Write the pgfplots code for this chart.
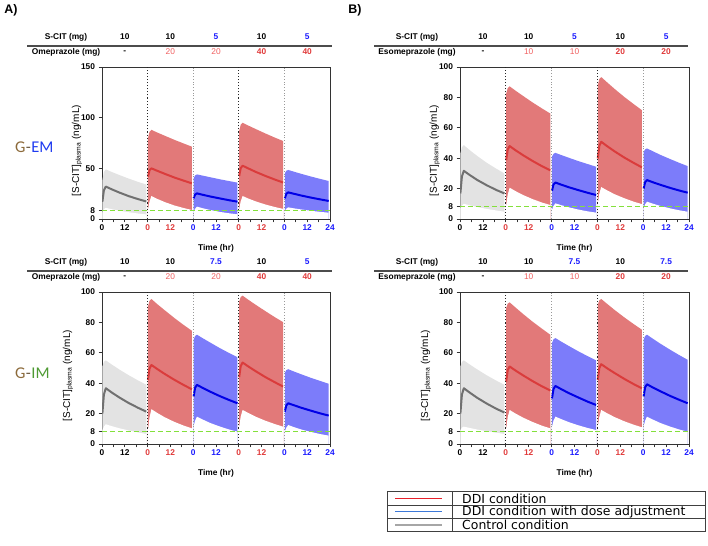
\documentclass[border=0pt]{standalone}
\usepackage{pgfplots}
\pgfplotsset{compat=1.18}
\usepackage{pgfplotstable}
\usepackage{fontspec}
\setmainfont{Liberation Sans}
\newfontfamily\gfont{Carlito}
\newfontfamily\legfont{DejaVu Sans}

\definecolor{bandgray}{HTML}{E3E3E3}
\definecolor{meangray}{HTML}{707070}
\definecolor{bandred}{HTML}{E27979}
\definecolor{meanred}{HTML}{DA3C3C}
\definecolor{bandblue}{HTML}{7C7CFA}
\definecolor{meanblue}{HTML}{0000E6}
\definecolor{limeg}{HTML}{84E03C}
\definecolor{tred}{HTML}{E03A3A}
\definecolor{lred}{HTML}{F06060}
\definecolor{tblue}{HTML}{1A1AFF}
\definecolor{gbrown}{HTML}{8C6A3A}
\definecolor{gdash}{HTML}{6B5840}
\definecolor{emblue}{HTML}{1F3BF0}
\definecolor{imgreen}{HTML}{4E9A33}
\definecolor{legred}{HTML}{E8202A}
\definecolor{legblue}{HTML}{3C78D8}
\definecolor{leggray}{HTML}{A6A6A6}

\newcommand{\fs}{\fontsize{8.4}{10}\selectfont}

% columns: t, gray (m,l,u), red1, blue1, red2, blue2
\pgfplotstableread{
t    gm   gl   gu   r1m  r1l  r1u  b1m  b1l  b1u  r2m  r2l  r2u  b2m  b2l  b2u
0.2  17   6    38   41.8 9    80   20.4 7    40   42.4 9.5  87   20.4 8    45
1    28.3 9.8  46.3 48   17.2 86   24.1 10.1 43   50.1 17.4 93   24.8 10.1 47.6
2    32   11   49   50   22.7 88   25.3 12.2 44   52.6 22.7 95   26.3 11.5 48.4
5    29.4 9.7  46.5 47.6 19.9 85.4 23.9 10.6 42.8 49.9 20.2 92.2 24.9 10.5 46.7
9    26.2 8.2  43.5 44.6 16.7 82.2 22.2 8.9  41.2 46.4 17.3 88.7 23.1 9.4  44.5
14   22.6 6.7  39.9 41.0 13.4 78.2 20.3 7.0  39.2 42.5 14.3 84.4 21.1 8.1  41.9
19   19.6 5.4  36.6 37.8 10.8 74.5 18.5 5.6  37.4 38.9 11.8 80.3 19.3 7.0  39.5
23.3 17.3 4.5  34   35.2 8.9  71.4 17.1 4.6  35.9 36   10   77   17.8 6.2  37.5
}\tabAT

\pgfplotstableread{
t    gm   gl   gu   r1m  r1l  r1u  b1m  b1l  b1u  r2m  r2l  r2u  b2m  b2l  b2u
0.2  16.8 7    43   38.7 9    82.5 18.6 6    41   39.8 10   88   20   7    44
1    28.0 8.8  47.2 45.7 16.0 86.1 22.7 8.6  42.9 48.1 16.6 92.1 24.2 9.6  45.8
2    31.7 10   48.6 48   20.6 87.3 24   10.3 43.5 50.8 21   93.4 25.6 11.4 46.4
5    29.0 9.0  45.4 45.3 18.4 84.5 22.6 9.1  42.1 48.0 18.9 90.0 24.2 10.1 44.6
9    25.7 7.9  41.5 42.0 15.8 81.0 20.9 7.7  40.3 44.5 16.3 85.6 22.5 8.6  42.2
14   22.2 6.6  37.0 38.2 13.1 76.7 19.0 6.2  38.1 40.5 13.7 80.4 20.5 7.0  39.5
19   19.1 5.6  33.1 34.7 10.8 72.7 17.2 5.0  36.1 36.9 11.4 75.6 18.7 5.7  36.9
23.3 16.8 4.8  30   32   9.2  69.4 15.8 4.2  34.4 34   9.8  71.6 17.3 4.8  34.8
}\tabBT

\pgfplotstableread{
t    gm   gl   gu   r1m  r1l  r1u  b1m  b1l  b1u  r2m  r2l  r2u  b2m  b2l  b2u
0.2  20   9    51   42.2 9    90.5 31.2 11.4 68.6 44   11.4 93.8 21.3 8.1  46.6
1    32.5 11.4 54   49.6 17.3 94.2 37.0 15.4 71.1 51.2 18.0 96.7 25.4 10.7 48.6
2    36.7 13   55   52   22.9 95.4 38.9 18   71.9 53.6 22.4 97.6 26.8 12.5 49.2
5    34.0 11.8 52.4 49.4 20.5 92.1 36.9 16.1 69.6 51.0 20.4 94.9 25.5 11.1 47.7
9    30.7 10.4 49.1 46.1 17.6 88.0 34.4 13.8 66.7 47.8 17.9 91.5 23.8 9.5  45.8
14   27.0 8.9  45.3 42.3 14.6 83.0 31.5 11.5 63.1 44.0 15.3 87.4 21.9 7.9  43.5
19   23.8 7.6  41.8 38.8 12.1 78.3 28.9 9.5  59.8 40.6 13.1 83.4 20.1 6.5  41.4
23.3 21.3 6.6  39   36   10.3 74.5 26.8 8.1  57.1 37.8 11.4 80.2 18.7 5.5  39.6
}\tabAB

\pgfplotstableread{
t    gm   gl   gu   r1m  r1l  r1u  b1m  b1l  b1u  r2m  r2l  r2u  b2m  b2l  b2u
0.2  20   9    51   41   10.3 89.5 30   11.4 66.4 42.2 11   91.6 31.2 11.4 68.6
1    32.5 10.8 54   48.5 17.6 92.3 36.2 15.4 68.9 49.9 17.8 94.5 37.3 15.4 71.1
2    36.7 11.4 55   51   22.4 93.2 38.2 18   69.7 52.5 22.4 95.4 39.3 18   71.9
5    33.9 10.6 52.4 48.4 20.1 89.9 36.1 16.4 67.4 49.9 20.3 92.3 37.2 16.1 69.3
9    30.4 9.5  49.1 45.2 17.4 85.6 33.5 14.4 64.5 46.7 17.7 88.2 34.7 13.8 66.0
14   26.6 8.4  45.2 41.4 14.5 80.5 30.6 12.3 61.0 42.9 15.0 83.4 31.7 11.5 62.1
19   23.2 7.4  41.7 37.9 12.0 75.8 27.8 10.5 57.7 39.4 12.7 78.9 29.0 9.5  58.4
23.3 20.7 6.6  38.9 35.2 10.3 71.9 25.7 9.2  55   36.7 11   75.2 26.8 8.1  55.4
}\tabBB

% band = fill under upper curve, then white fill under lower curve
\newcommand{\seg}[5]{%
  \addplot[fill=#4, draw=none] table[x expr=\thisrow{t}+#2, y=#3u] {#1} \closedcycle;
  \addplot[fill=white, draw=none] table[x expr=\thisrow{t}+#2, y=#3l] {#1} \closedcycle;
  \addplot[draw=#5, line width=2pt, line join=round] table[x expr=\thisrow{t}+#2, y=#3m] {#1};
}
\newcommand{\allsegs}[1]{%
  \seg{#1}{0}{g}{bandgray}{meangray}
  \seg{#1}{24}{r1}{bandred}{meanred}
  \seg{#1}{48}{b1}{bandblue}{meanblue}
  \seg{#1}{72}{r2}{bandred}{meanred}
  \seg{#1}{96}{b2}{bandblue}{meanblue}
}
\newcommand{\refl}[1]{%
  \addplot[draw=black!85, line width=1.1pt, dotted] coordinates {(24,0) (24,#1)};
  \addplot[draw=black!85, line width=1.1pt, dotted] coordinates {(72,0) (72,#1)};
  \addplot[draw=black!40, line width=0.8pt, dotted] coordinates {(48,0) (48,#1)};
  \addplot[draw=black!40, line width=0.8pt, dotted] coordinates {(96,0) (96,#1)};
  \addplot[draw=limeg, line width=1.2pt, dash pattern=on 5pt off 3pt] coordinates {(0,8) (120,8)};
  \addplot[draw=black!80, line width=0.8pt] coordinates {(0,0) (120,0)};
}
% x tick labels as coloured nodes
\tikzset{xtl/.style={anchor=north, yshift=-4.5bp, font=\bfseries\fs, inner sep=1pt}}
\newcommand{\xtl}{%
  \node[xtl] at (axis cs:0,0) {0};
  \node[xtl] at (axis cs:12,0) {12};
  \node[xtl, text=tred] at (axis cs:24,0) {0};
  \node[xtl, text=tred] at (axis cs:36,0) {12};
  \node[xtl, text=tblue] at (axis cs:48,0) {0};
  \node[xtl, text=tblue] at (axis cs:60,0) {12};
  \node[xtl, text=tred] at (axis cs:72,0) {0};
  \node[xtl, text=tred] at (axis cs:84,0) {12};
  \node[xtl, text=tblue] at (axis cs:96,0) {0};
  \node[xtl, text=tblue] at (axis cs:108,0) {12};
  \node[xtl, text=tblue] at (axis cs:120,0) {24};
}

\pgfplotsset{
  panel/.style={
    scale only axis, width=228bp, height=152bp,
    anchor=south west, clip mode=individual,
    xmin=0, xmax=120, ymin=0,
    axis line style={black!80, line width=0.8pt},
    tick pos=left, tick align=outside,
    major tick length=3.5bp,
    tick style={black!80, line width=0.8pt},
    xtick={0,6,...,120},
    xticklabels={},
    every tick label/.append style={font=\bfseries\fs},
    /pgf/number format/assume math mode=true,
    xlabel={Time (hr)},
    ylabel={[S-CIT]\textsubscript{\mdseries\fontsize{6.8}{7}\selectfont plasma} (ng/mL)},
    label style={font=\bfseries\fs},
    xlabel style={at={(axis description cs:0.5,-0.19)}, anchor=center},
  },
  toplab/.style={every axis y label/.style={at={(axis description cs:-0.11,0.45)}, rotate=90, anchor=center}},
  botlab/.style={every axis y label/.style={at={(axis description cs:-0.149,0.45)}, rotate=90, anchor=center}},
}

\begin{document}
\begin{tikzpicture}
% ---- legend table (drawn first) ----
\draw[draw=black!75, line width=0.8pt] (387bp,14.3bp) rectangle (705bp,54.3bp);
\draw[draw=black!75, line width=0.8pt] (387bp,40.9bp) -- (705bp,40.9bp);
\draw[draw=black!75, line width=0.8pt] (387bp,27.6bp) -- (705bp,27.6bp);
\draw[draw=black!75, line width=0.8pt] (452bp,14.3bp) -- (452bp,54.3bp);
\draw[draw=legred, line width=1.3pt] (395bp,47.6bp) -- (442bp,47.6bp);
\draw[draw=legblue, line width=1.3pt] (395bp,34.3bp) -- (442bp,34.3bp);
\draw[draw=leggray, line width=1.3pt] (395bp,21bp) -- (442bp,21bp);
\begin{scope}[every node/.style={anchor=west, inner sep=0pt, font=\legfont\fontsize{12.5}{13}\selectfont}]
\node at (462bp,47.6bp) {DDI condition};
\node at (462bp,34.3bp) {DDI condition with dose adjustment};
\node at (462bp,21bp) {Control condition};
\end{scope}

% panel letters
\node[font=\bfseries\fontsize{12.5}{14}\selectfont] at (11bp,536bp) {A)};
\node[font=\bfseries\fontsize{12.5}{14}\selectfont] at (355bp,536bp) {B)};

% genotype labels
\begin{scope}[every node/.style={inner sep=0pt, anchor=base west, font=\gfont\fontsize{16.5}{18}\selectfont}]
\node[text=gbrown] (ga) at (15bp,393.7bp) {G};
\node[text=gdash] (gb) at (ga.base east) {-};
\node[text=emblue] at (gb.base east) {EM};
\node[text=gbrown] (gc) at (15bp,167.7bp) {G};
\node[text=gdash] (gd) at (gc.base east) {-};
\node[text=imgreen] at (gd.base east) {IM};
\end{scope}

% ---- dose tables ----
\begin{scope}[every node/.style={font=\bfseries\fs, inner sep=0pt}]
% A top
\draw[draw=black!70, line width=1.1pt] (27bp,500bp) -- (332bp,500bp);
\node at (66bp,509bp) {S-CIT (mg)};
\node at (66bp,494bp) {Omeprazole (mg)};
\node at (124.8bp,509bp) {10};
\node at (170.4bp,509bp) {10};
\node[text=tblue] at (216bp,509bp) {5};
\node at (261.6bp,509bp) {10};
\node[text=tblue] at (307.2bp,509bp) {5};
\node at (124.8bp,494bp) {-};
\node[text=lred, font=\mdseries\fs] at (170.4bp,494bp) {20};
\node[text=lred, font=\mdseries\fs] at (216bp,494bp) {20};
\node[text=tred] at (261.6bp,494bp) {40};
\node[text=tred] at (307.2bp,494bp) {40};
% B top
\draw[draw=black!70, line width=1.1pt] (374bp,500bp) -- (688bp,500bp);
\node at (417bp,509bp) {S-CIT (mg)};
\node at (417bp,494bp) {Esomeprazole (mg)};
\node at (482.9bp,509bp) {10};
\node at (528.7bp,509bp) {10};
\node[text=tblue] at (574.5bp,509bp) {5};
\node at (620.3bp,509bp) {10};
\node[text=tblue] at (666.1bp,509bp) {5};
\node at (482.9bp,494bp) {-};
\node[text=lred, font=\mdseries\fs] at (528.7bp,494bp) {10};
\node[text=lred, font=\mdseries\fs] at (574.5bp,494bp) {10};
\node[text=tred] at (620.3bp,494bp) {20};
\node[text=tred] at (666.1bp,494bp) {20};
% A bottom
\draw[draw=black!70, line width=1.1pt] (27bp,275bp) -- (332bp,275bp);
\node at (66bp,284bp) {S-CIT (mg)};
\node at (66bp,269bp) {Omeprazole (mg)};
\node at (124.8bp,284bp) {10};
\node at (170.4bp,284bp) {10};
\node[text=tblue] at (216bp,284bp) {7.5};
\node at (261.6bp,284bp) {10};
\node[text=tblue] at (307.2bp,284bp) {5};
\node at (124.8bp,269bp) {-};
\node[text=lred, font=\mdseries\fs] at (170.4bp,269bp) {20};
\node[text=lred, font=\mdseries\fs] at (216bp,269bp) {20};
\node[text=tred] at (261.6bp,269bp) {40};
\node[text=tred] at (307.2bp,269bp) {40};
% B bottom
\draw[draw=black!70, line width=1.1pt] (374bp,275bp) -- (688bp,275bp);
\node at (417bp,284bp) {S-CIT (mg)};
\node at (417bp,269bp) {Esomeprazole (mg)};
\node at (482.9bp,284bp) {10};
\node at (528.7bp,284bp) {10};
\node[text=tblue] at (574.5bp,284bp) {7.5};
\node at (620.3bp,284bp) {10};
\node[text=tblue] at (666.1bp,284bp) {7.5};
\node at (482.9bp,269bp) {-};
\node[text=lred, font=\mdseries\fs] at (528.7bp,269bp) {10};
\node[text=lred, font=\mdseries\fs] at (574.5bp,269bp) {10};
\node[text=tred] at (620.3bp,269bp) {20};
\node[text=tred] at (666.1bp,269bp) {20};
\end{scope}

% ---------- A bottom ----------
\begin{axis}[panel, botlab, at={(102bp,102bp)}, ymax=100, ytick={0,8,20,40,60,80,100}]
\allsegs{\tabAB}
\refl{100}
\xtl
\end{axis}
% ---------- B bottom ----------
\begin{axis}[panel, botlab, at={(460bp,102bp)}, width=229bp, ymax=100, ytick={0,8,20,40,60,80,100}]
\allsegs{\tabBB}
\refl{100}
\xtl
\end{axis}
% ---------- A top ----------
\begin{axis}[panel, toplab, at={(102bp,327bp)}, ymax=150, ytick={0,8,50,100,150}]
\allsegs{\tabAT}
\refl{150}
\xtl
\end{axis}
% ---------- B top ----------
\begin{axis}[panel, toplab, at={(460bp,327bp)}, width=229bp, ymax=100, ytick={0,8,20,40,60,80,100}]
\allsegs{\tabBT}
\refl{100}
\xtl
\end{axis}

\pgfresetboundingbox
\useasboundingbox (0,0) rectangle (708bp,546bp);
\end{tikzpicture}
\end{document}
